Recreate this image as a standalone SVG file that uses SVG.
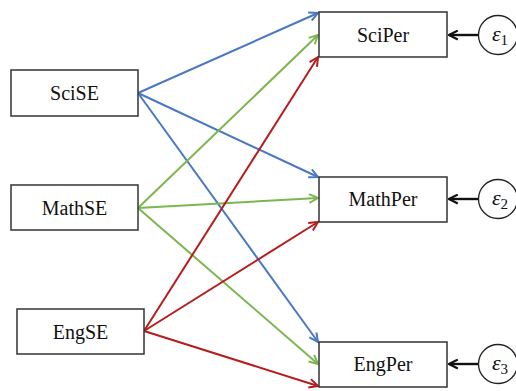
<svg xmlns="http://www.w3.org/2000/svg" width="516" height="391" viewBox="0 0 516 391">
<style>
.box{fill:#fff;stroke:#333;stroke-width:1.5}
text{font-family:'Liberation Serif','DejaVu Serif',serif;fill:#111;text-anchor:middle}
.lbl{font-size:20px}
.eps{font-size:22px;font-style:italic}
.circ{fill:#fff;stroke:#222;stroke-width:1.3}
.b{stroke:#4a78c2;stroke-width:2;fill:none}
.g{stroke:#7bb64f;stroke-width:2;fill:none}
.r{stroke:#b51d1d;stroke-width:2;fill:none}
.k{stroke:#111;stroke-width:2.4;fill:none}
</style>
<defs>
<marker id="mb" viewBox="0 0 10 10" refX="9" refY="5" markerWidth="11" markerHeight="11" orient="auto" markerUnits="userSpaceOnUse"><path d="M1,1 L9,5 L1,9" fill="none" stroke="#4a78c2" stroke-width="1.8"/></marker>
<marker id="mg" viewBox="0 0 10 10" refX="9" refY="5" markerWidth="11" markerHeight="11" orient="auto" markerUnits="userSpaceOnUse"><path d="M1,1 L9,5 L1,9" fill="none" stroke="#7bb64f" stroke-width="1.8"/></marker>
<marker id="mr" viewBox="0 0 10 10" refX="9" refY="5" markerWidth="11" markerHeight="11" orient="auto" markerUnits="userSpaceOnUse"><path d="M1,1 L9,5 L1,9" fill="none" stroke="#b51d1d" stroke-width="1.8"/></marker>
<marker id="mk" viewBox="0 0 10 10" refX="9" refY="5" markerWidth="11" markerHeight="11" orient="auto" markerUnits="userSpaceOnUse"><path d="M1,1 L9,5 L1,9" fill="none" stroke="#111" stroke-width="2"/></marker>
</defs>
<g id="connectors">
<line class="b" x1="138" y1="93" x2="318" y2="13" marker-end="url(#mb)"/>
<line class="b" x1="138" y1="93" x2="318" y2="177" marker-end="url(#mb)"/>
<line class="b" x1="138" y1="93" x2="318" y2="342" marker-end="url(#mb)"/>
<line class="g" x1="138" y1="208" x2="318" y2="35" marker-end="url(#mg)"/>
<line class="g" x1="138" y1="208" x2="318" y2="198" marker-end="url(#mg)"/>
<line class="g" x1="138" y1="208" x2="318" y2="364" marker-end="url(#mg)"/>
<line class="r" x1="144" y1="331" x2="318" y2="57" marker-end="url(#mr)"/>
<line class="r" x1="144" y1="331" x2="318" y2="222" marker-end="url(#mr)"/>
<line class="r" x1="144" y1="331" x2="318" y2="386" marker-end="url(#mr)"/>
<line class="k" x1="478" y1="35" x2="449" y2="35" marker-end="url(#mk)"/>
<line class="k" x1="478" y1="199" x2="449" y2="199" marker-end="url(#mk)"/>
<line class="k" x1="478" y1="364" x2="449" y2="364" marker-end="url(#mk)"/>
</g>
<g id="SciSE"><rect class="box" x="11" y="70" width="127" height="46"/><text class="lbl" x="74.5" y="100" font-family="Liberation Serif, serif">SciSE</text></g>
<g id="MathSE"><rect class="box" x="11" y="185" width="127" height="45"/><text class="lbl" x="74.5" y="215" font-family="Liberation Serif, serif">MathSE</text></g>
<g id="EngSE"><rect class="box" x="17" y="309" width="127" height="45"/><text class="lbl" x="80.5" y="339" font-family="Liberation Serif, serif">EngSE</text></g>
<g id="SciPer"><rect class="box" x="319" y="12" width="128" height="45"/><text class="lbl" x="383" y="42" font-family="Liberation Serif, serif">SciPer</text></g>
<g id="MathPer"><rect class="box" x="319" y="177" width="128" height="45"/><text class="lbl" x="383" y="206" font-family="Liberation Serif, serif">MathPer</text></g>
<g id="EngPer"><rect class="box" x="319" y="342" width="128" height="45"/><text class="lbl" x="383" y="371" font-family="Liberation Serif, serif">EngPer</text></g>
<g id="e1"><circle class="circ" cx="498" cy="35" r="19.5"/><text class="eps" x="500" y="41">ε<tspan font-size="15" font-style="normal" dy="4">1</tspan></text></g>
<g id="e2"><circle class="circ" cx="498" cy="199" r="19.5"/><text class="eps" x="500" y="205">ε<tspan font-size="15" font-style="normal" dy="4">2</tspan></text></g>
<g id="e3"><circle class="circ" cx="498" cy="364" r="19.5"/><text class="eps" x="500" y="370">ε<tspan font-size="15" font-style="normal" dy="4">3</tspan></text></g>
</svg>
